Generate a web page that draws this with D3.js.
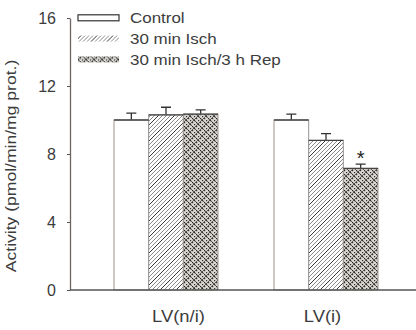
<!DOCTYPE html>
<html>
<head>
<meta charset="utf-8">
<script src="https://cdn.jsdelivr.net/npm/d3@7/dist/d3.min.js"></script>
<style>
  body { margin: 0; background: #fff; }
  svg { display: block; font-family: "Liberation Sans", Arial, sans-serif; }
</style>
</head>
<body>
<svg width="416" height="330"></svg>
<script>
// data
var categories = ["LV(n/i)", "LV(i)"];
var seriesNames = ["Control", "30 min Isch", "30 min Isch/3 h Rep"];
var controlVals = [10.0, 10.0];
var ischVals = [10.3, 8.8];
var repVals = [10.35, 7.15];
var controlErr = [0.4, 0.35];
var ischErr = [0.45, 0.4];
var repErr = [0.25, 0.25];
var yTicks = [0, 4, 8, 12, 16];
var signif = [null, "*"]; // marks above the reperfusion bar

var svg = d3.select("svg");
var stretch = 1.17;   // text in the picture is a bit wider than normal
var textCol = "#3c3c3c";

var y = d3.scaleLinear().domain([0, 16]).range([290, 18]);
var x0 = d3.scaleBand().domain(categories).range([114, 378]).paddingInner(0.35);
var x1 = d3.scaleBand().domain(seriesNames).range([0, x0.bandwidth()]);
var xLab = d3.scalePoint().domain(categories).range([178, 322]);

// patterns
var defs = svg.append("defs");
var hatch = defs.append("pattern").attr("id", "hatch")
    .attr("patternUnits", "userSpaceOnUse").attr("width", 4).attr("height", 4);
hatch.append("rect").attr("width", 4).attr("height", 4).attr("fill", "#fff");
hatch.append("path").attr("d", "M-1,1 l2,-2 M0,4 l4,-4 M3,5 l2,-2")
    .attr("stroke", "#8a8a8a").attr("stroke-width", 1);

var hatch2 = defs.append("pattern").attr("id", "hatchDark")
    .attr("patternUnits", "userSpaceOnUse").attr("width", 16).attr("height", 16);
hatch2.append("rect").attr("width", 16).attr("height", 16).attr("fill", "url(#hatch)");
hatch2.append("path").attr("d", "M0,16 l16,-16")
    .attr("stroke", "#222").attr("stroke-width", 0.8);

var cross = defs.append("pattern").attr("id", "cross")
    .attr("patternUnits", "userSpaceOnUse").attr("width", 8).attr("height", 8);
cross.append("rect").attr("width", 8).attr("height", 8).attr("fill", "#d8d4d0");
[[0,0],[2,2],[4,0],[6,2],[0,4],[2,6],[4,4],[6,6]].forEach(function (p) {
  cross.append("rect").attr("x", p[0]).attr("y", p[1]).attr("width", 1.2).attr("height", 1.2).attr("fill", "#333");
});
cross.append("path").attr("d", "M0,0 L8,8 M8,0 L0,8")
    .attr("stroke", "#222").attr("stroke-width", 0.7);

var fills = ["#fff", "url(#hatchDark)", "url(#cross)"];

var rows = categories.map(function (c, i) {
  return [
    { cat: c, s: seriesNames[0], v: controlVals[i], e: controlErr[i], f: fills[0] },
    { cat: c, s: seriesNames[1], v: ischVals[i], e: ischErr[i], f: fills[1] },
    { cat: c, s: seriesNames[2], v: repVals[i], e: repErr[i], f: fills[2], mark: signif[i] }
  ];
});

var bars = svg.append("g").selectAll("g").data(rows).enter().append("g")
    .attr("transform", function (d, i) { return "translate(" + x0(categories[i]) + ",0)"; });

// error bars (upper only)
bars.selectAll(".err").data(function (d) { return d; }).enter().append("path")
    .attr("class", "err")
    .attr("d", function (d) {
      var cx = x1(d.s) + x1.bandwidth() / 2;
      return "M" + cx + "," + y(d.v) + "V" + y(d.v + d.e) + "M" + (cx - 5) + "," + y(d.v + d.e) + "H" + (cx + 5);
    })
    .attr("stroke", "#333").attr("stroke-width", 1.3).attr("fill", "none");

bars.selectAll("rect").data(function (d) { return d; }).enter().append("rect")
    .attr("x", function (d) { return x1(d.s); })
    .attr("y", function (d) { return y(d.v); })
    .attr("width", x1.bandwidth())
    .attr("height", function (d) { return y(0) - y(d.v); })
    .attr("fill", function (d) { return d.f; })
    .attr("stroke", "#9a9490").attr("stroke-width", 1);

// dark top edges
bars.selectAll(".top").data(function (d) { return d; }).enter().append("line")
    .attr("class", "top")
    .attr("x1", function (d) { return x1(d.s); })
    .attr("x2", function (d) { return x1(d.s) + x1.bandwidth(); })
    .attr("y1", function (d) { return y(d.v); })
    .attr("y2", function (d) { return y(d.v); })
    .attr("stroke", "#444").attr("stroke-width", 1.3);

bars.selectAll(".mark").data(function (d) { return d.filter(function (e) { return e.mark; }); })
    .enter().append("text")
    .attr("x", function (d) { return x1(d.s) + x1.bandwidth() / 2; })
    .attr("y", function (d) { return y(d.v + d.e) + 1; })
    .attr("text-anchor", "middle")
    .attr("font-size", "20px").attr("fill", "#222")
    .text(function (d) { return d.mark; });

// axes
var yAxis = svg.append("g").attr("transform", "translate(70,0)")
    .call(d3.axisLeft(y).tickValues(yTicks).tickSize(3).tickPadding(11).tickSizeOuter(0));
yAxis.select(".domain").attr("stroke", "#6e6662").attr("stroke-width", 1.3);
yAxis.selectAll("line").attr("stroke", "#555");
yAxis.selectAll("text").attr("font-size", "16px").attr("fill", textCol)
    .attr("font-family", "Liberation Sans, Arial, sans-serif");

svg.append("line").attr("x1", 70).attr("x2", 416).attr("y1", y(0)).attr("y2", y(0))
    .attr("stroke", "#555").attr("stroke-width", 1.5);

var xAxis = svg.append("g").attr("transform", "translate(0," + y(0) + ")")
    .call(d3.axisBottom(xLab).tickSize(0).tickPadding(21));
xAxis.select(".domain").remove();
xAxis.selectAll(".tick text")
    .attr("font-size", "16px").attr("fill", textCol)
    .attr("font-family", "Liberation Sans, Arial, sans-serif")
    .attr("transform", "scale(1.15,1)");

svg.append("text")
    .attr("transform", "translate(16,166) rotate(-90) scale(" + stretch + ",1)")
    .attr("text-anchor", "middle")
    .attr("font-size", "15px").attr("fill", textCol)
    .text("Activity (pmol/min/mg prot.)");

// legend
var legend = svg.append("g").selectAll("g").data(seriesNames).enter().append("g")
    .attr("transform", function (d, i) { return "translate(78," + (17.8 + i * 20.8) + ")"; });
legend.append("rect")
    .attr("x", 0).attr("y", -3).attr("width", 41).attr("height", 6)
    .attr("fill", function (d, i) { return fills[i]; })
    .attr("stroke", function (d, i) { return i === 0 ? "#333" : "none"; })
    .attr("stroke-width", 1.2);
legend.append("text")
    .attr("transform", "translate(52,5.5) scale(" + stretch + ",1)")
    .attr("font-size", "14.5px").attr("fill", textCol)
    .text(function (d) { return d; });
</script>
</body>
</html>
